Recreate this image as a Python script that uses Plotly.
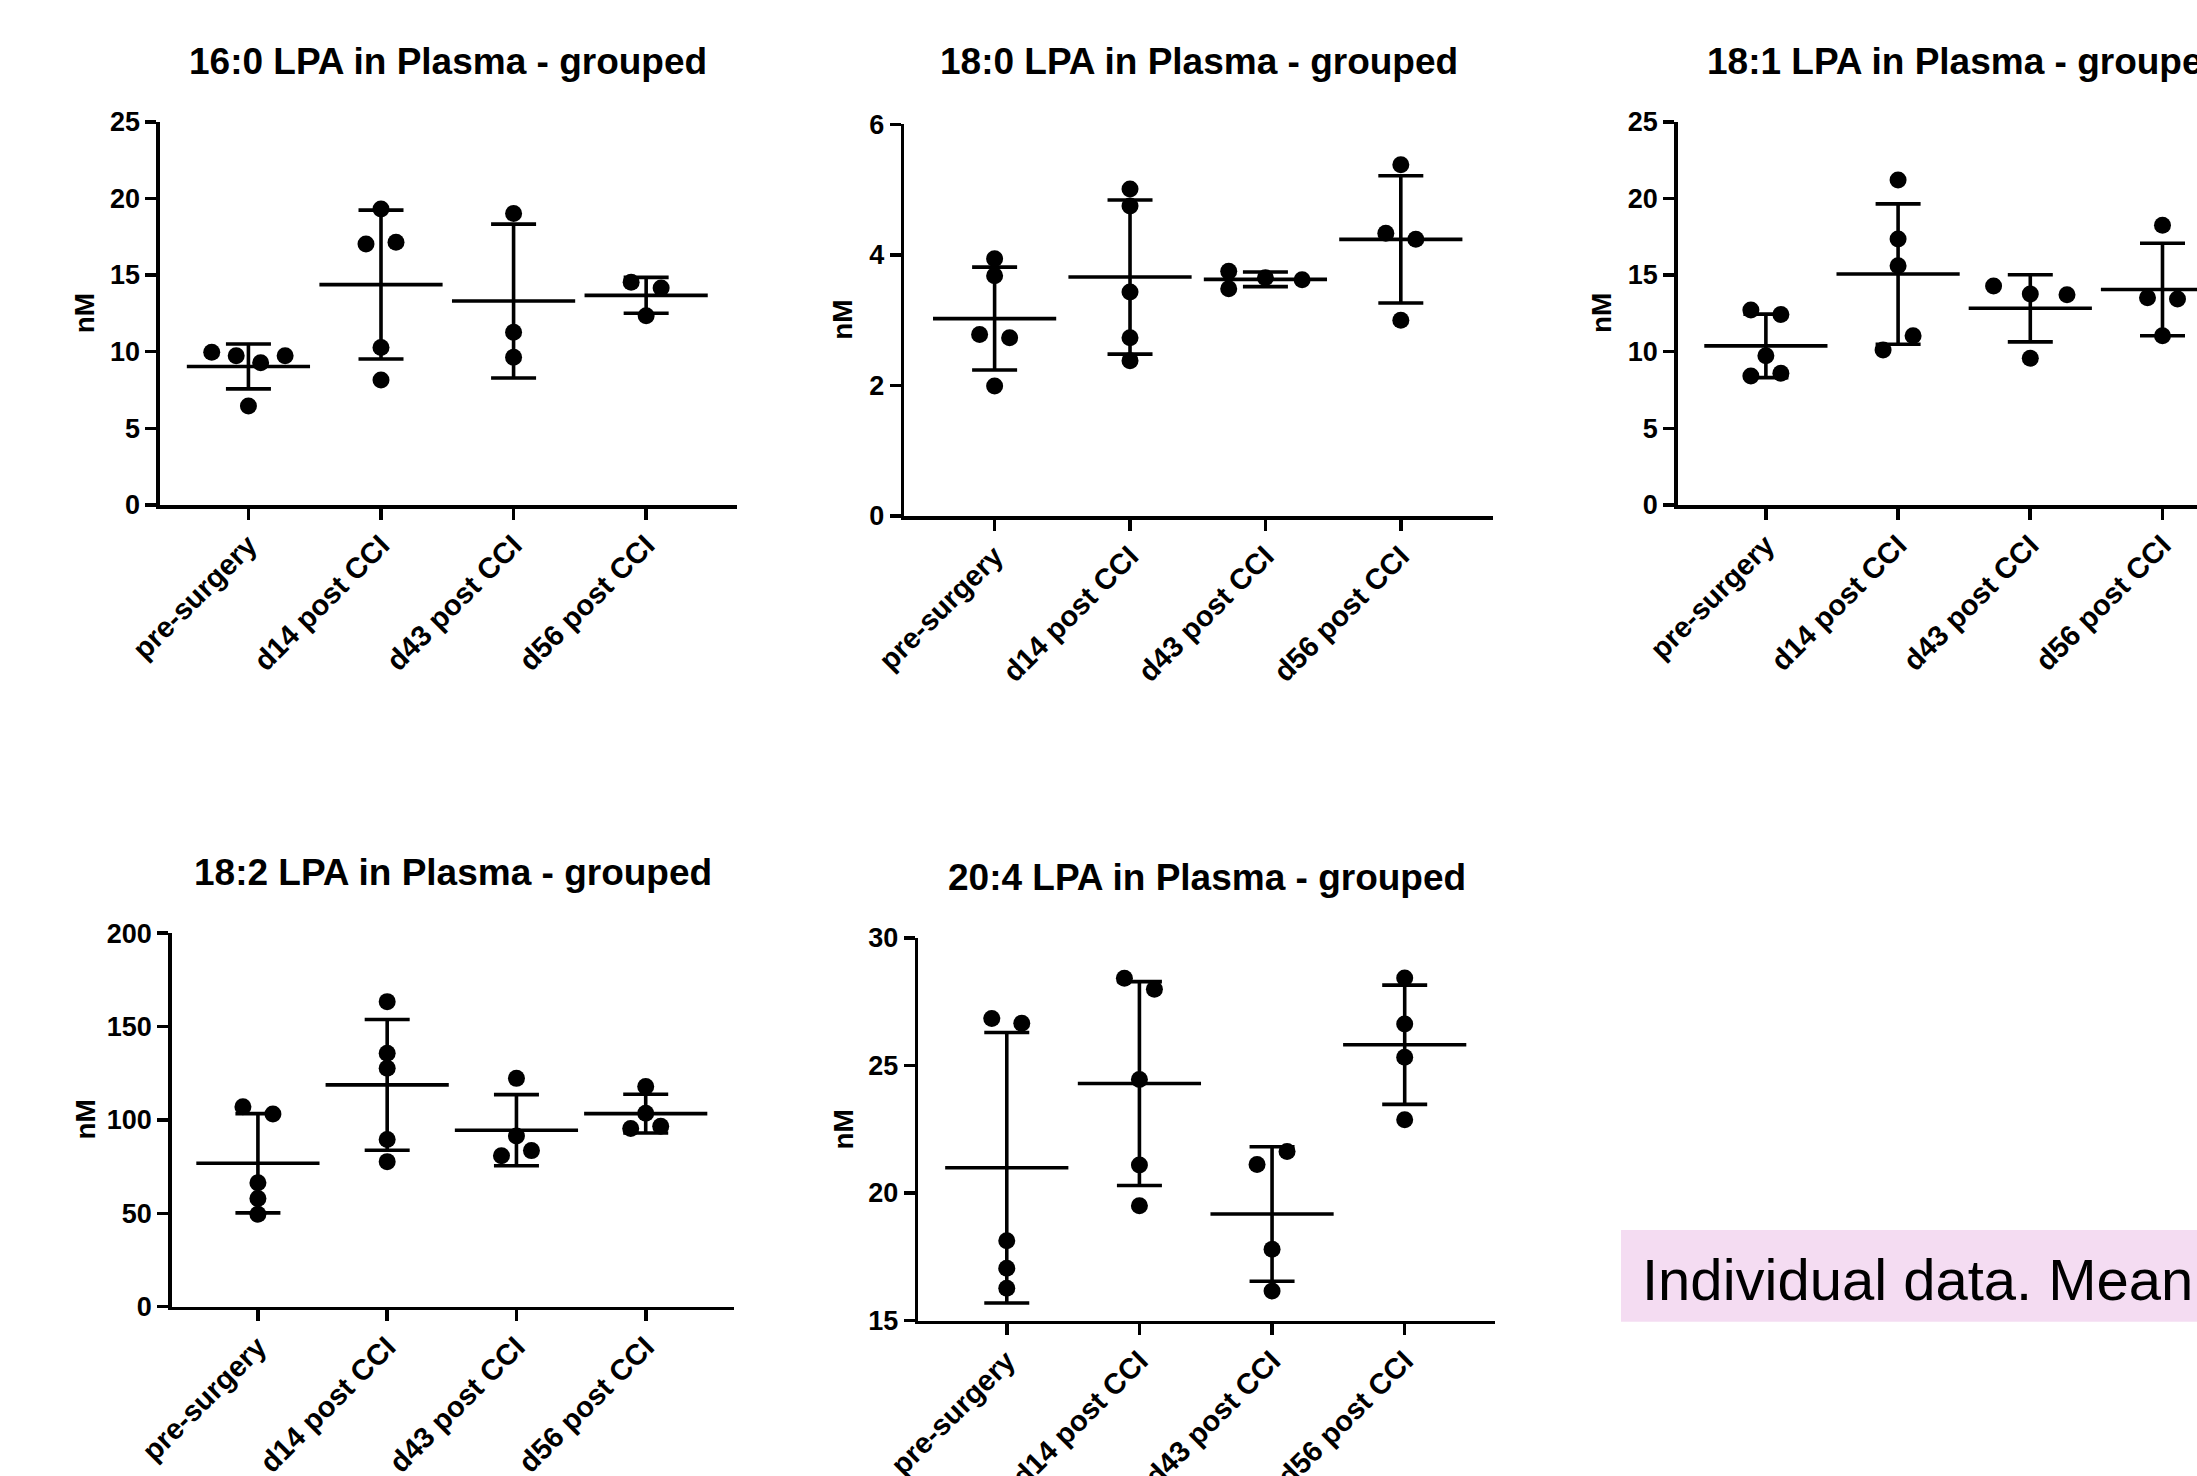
import math
import numpy as np
import plotly.graph_objects as go

# ---------------- data ----------------
categories = ["pre-surgery", "d14 post CCI", "d43 post CCI", "d56 post CCI"]

lpa_16_0 = [
    [9.96, 9.74, 9.28, 9.74, 6.46],
    [19.30, 17.02, 17.13, 10.28, 8.15],
    [19.02, 11.26, 9.63],
    [14.53, 14.15, 12.34],
]
lpa_18_0 = [
    [3.94, 3.68, 2.78, 2.73, 1.99],
    [5.01, 4.75, 3.43, 2.73, 2.38],
    [3.75, 3.48, 3.65, 3.62],
    [5.38, 4.33, 4.24, 3.00],
]
lpa_18_1 = [
    [12.72, 12.43, 9.74, 8.41, 8.59],
    [21.20, 17.35, 15.61, 10.11, 11.04],
    [14.28, 13.76, 13.71, 9.57],
    [18.24, 13.52, 13.43, 11.04],
]
lpa_18_2 = [
    [107.1, 103.2, 66.4, 58.0, 49.5],
    [163.4, 135.7, 127.7, 89.6, 77.7],
    [122.3, 91.4, 80.9, 83.6],
    [118.0, 103.6, 95.5, 96.6],
]
lpa_20_4 = [
    [26.84, 26.65, 18.13, 17.05, 16.27],
    [28.41, 27.98, 24.45, 21.10, 19.50],
    [21.12, 21.63, 17.80, 16.16],
    [28.42, 26.62, 25.32, 22.87],
]

titles = [
    "16:0 LPA in Plasma - grouped",
    "18:0 LPA in Plasma - grouped",
    "18:1 LPA in Plasma - grouped",
    "18:2 LPA in Plasma - grouped",
    "20:4 LPA in Plasma - grouped",
]
y_ranges = [(0, 25), (0, 6), (0, 25), (0, 200), (15, 30)]
y_dticks = [5, 2, 5, 50, 5]
y_label = "nM"
note_text = "Individual data. Mean"

# ---------------- layout geometry (pixels) ----------------
W, H = 2197, 1476
panels = [
    dict(data=lpa_16_0, x0=160.0, x1=736.7, ytop=121.7, ybot=505.0, xr=(-0.667, 3.683), ty=61.6, nmx=84.0, tcx=None),
    dict(data=lpa_18_0, x0=904.3, x1=1493.3, ytop=124.3, ybot=516.0, xr=(-0.667, 3.683), ty=61.6, nmx=841.7, tcx=None),
    dict(data=lpa_18_1, x0=1677.7, x1=2197.0, ytop=121.7, ybot=505.0, xr=(-0.667, 3.261), ty=61.6, nmx=1601.7, tcx=1966.0),
    dict(data=lpa_18_2, x0=171.7, x1=734.0, ytop=933.3, ybot=1306.7, xr=(-0.667, 3.683), ty=872.0, nmx=84.5, tcx=None),
    dict(data=lpa_20_4, x0=918.3, x1=1495.3, ytop=937.7, ybot=1320.7, xr=(-0.667, 3.683), ty=877.0, nmx=843.3, tcx=None),
]

FONT = "Liberation Sans, Arial, Helvetica, sans-serif"
MARKER_D = 17.0
LINE_W = 3.6


def swarm_offsets(vals, ppu, gap=14.8, span=15.0, diam=14.0, pair=15.0, wide=36.7):
    """GraphPad-like horizontal spreading of points (returns pixel offsets)."""
    n = len(vals)
    order = sorted(range(n), key=lambda i: -vals[i])
    clusters, cur = [], [order[0]]
    for i in order[1:]:
        if (vals[cur[-1]] - vals[i]) * ppu < gap:
            cur.append(i)
        else:
            clusters.append(cur)
            cur = [i]
    clusters.append(cur)

    def split(c):
        if len(c) < 2 or (vals[c[0]] - vals[c[-1]]) * ppu <= span:
            return [c]
        gaps = [vals[c[k]] - vals[c[k + 1]] for k in range(len(c) - 1)]
        k = int(np.argmax(gaps))
        return split(c[:k + 1]) + split(c[k + 1:])

    rows = [r for c in clusters for r in split(c)]
    offs = [0.0] * n
    placed = []
    for r in rows:
        members = sorted(r)
        m = len(members)
        if m == 1:
            v = vals[members[0]]
            pos = [0.0]
            for cnd in (0.0, -wide, wide):
                if all(math.hypot(cnd - ox, (v - vy) * ppu) >= diam for ox, vy in placed):
                    pos = [cnd]
                    break
        elif m == 2:
            pos = [-pair, pair]
        else:
            pos = list(np.linspace(-wide, wide, m))
        for idx, p in zip(members, pos):
            offs[idx] = p
            placed.append((p, vals[idx]))
    return offs


fig = go.Figure()
layout = dict(
    template="none",
    width=W, height=H,
    margin=dict(l=0, r=0, t=0, b=0, pad=0, autoexpand=False),
    paper_bgcolor="white", plot_bgcolor="white",
    showlegend=False,
    font=dict(family=FONT, color="black"),
    annotations=[], shapes=[],
)

for k, p in enumerate(panels):
    sfx = "" if k == 0 else str(k + 1)
    xa, ya = "x" + sfx, "y" + sfx
    ppc = (p["x1"] - p["x0"]) / (p["xr"][1] - p["xr"][0])
    yr = y_ranges[k]
    ppu = (p["ybot"] - p["ytop"]) / (yr[1] - yr[0])

    px, py = [], []
    means, sds = [], []
    for ci, vals in enumerate(p["data"]):
        offs = swarm_offsets(vals, ppu)
        px += [ci + o / ppc for o in offs]
        py += list(vals)
        means.append(float(np.mean(vals)))
        sds.append(float(np.std(vals, ddof=1)))

    fig.add_trace(go.Scatter(
        x=list(range(len(categories))), y=means, xaxis=xa, yaxis=ya,
        mode="markers", cliponaxis=False, hoverinfo="skip",
        marker=dict(symbol="line-ew", size=88, color="black",
                    line=dict(width=LINE_W, color="black")),
        error_y=dict(type="data", array=sds, visible=True, color="black",
                     thickness=LINE_W, width=22.5),
    ))
    fig.add_trace(go.Scatter(
        x=px, y=py, xaxis=xa, yaxis=ya, mode="markers", cliponaxis=False,
        marker=dict(size=MARKER_D, color="black", line=dict(width=0)),
    ))

    layout["xaxis" + sfx] = dict(
        domain=[p["x0"] / W, p["x1"] / W], range=list(p["xr"]), anchor=ya,
        automargin=False,
        tickmode="array", tickvals=list(range(len(categories))), ticktext=categories,
        tickangle=-45, ticks="outside", ticklen=11, tickwidth=LINE_W, tickcolor="black",
        ticklabelstandoff=-3,
        showline=True, linewidth=LINE_W, linecolor="black",
        showgrid=False, zeroline=False, fixedrange=True,
        tickfont=dict(family=FONT, size=29, color="black", weight="bold"),
    )
    layout["yaxis" + sfx] = dict(
        domain=[1 - p["ybot"] / H, 1 - p["ytop"] / H], range=list(yr), anchor=xa,
        automargin=False,
        tick0=yr[0], dtick=y_dticks[k], ticks="outside", ticklen=11, tickwidth=LINE_W,
        tickcolor="black", showline=True, linewidth=LINE_W, linecolor="black",
        showgrid=False, zeroline=False, fixedrange=True,
        tickfont=dict(family=FONT, size=27, color="black", weight="bold"),
    )

    tcx = p["tcx"] if p["tcx"] is not None else (p["x0"] + p["x1"]) / 2
    layout["annotations"].append(dict(
        text=titles[k], xref="paper", yref="paper", x=tcx / W, y=1 - p["ty"] / H,
        xanchor="center", yanchor="middle", showarrow=False,
        font=dict(family=FONT, size=37, color="black", weight="bold"),
    ))
    layout["annotations"].append(dict(
        text=y_label, xref="paper", yref="paper", x=p["nmx"] / W,
        y=1 - (p["ytop"] + p["ybot"]) / 2 / H, textangle=-90,
        xanchor="center", yanchor="middle", showarrow=False,
        font=dict(family=FONT, size=28, color="black", weight="bold"),
    ))

# note box
layout["shapes"].append(dict(
    type="rect", xref="paper", yref="paper", x0=1621 / W, x1=1.0,
    y0=1 - 1321.7 / H, y1=1 - 1230 / H, fillcolor="#F4DCF2", line=dict(width=0),
    layer="below",
))
layout["annotations"].append(dict(
    text=note_text, xref="paper", yref="paper", x=1640 / W, y=1 - 1279 / H,
    xanchor="left", yanchor="middle", showarrow=False,
    font=dict(family=FONT, size=58, color="black"),
))

fig.update_layout(**layout)
fig.write_html(
    "out.html",
    config={"displayModeBar": False, "staticPlot": True},
    post_script="document.body.style.margin='0px';document.body.style.padding='0px';"
                "document.body.style.overflow='hidden';",
)
